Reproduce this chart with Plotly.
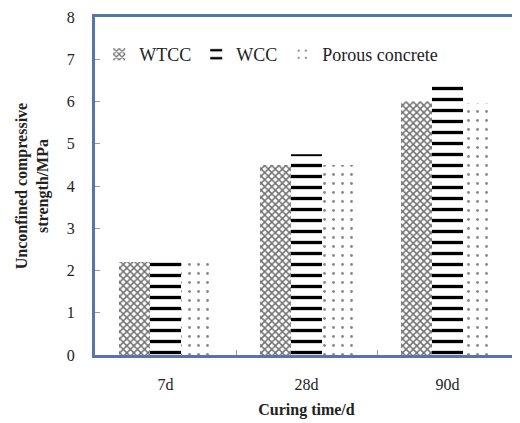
import plotly.graph_objects as go

categories = ["7d", "28d", "90d"]
wtcc = [2.2, 4.5, 6.0]
wcc = [2.25, 4.75, 6.4]
porous = [2.2, 4.5, 5.95]
y_ticks = [0, 1, 2, 3, 4, 5, 6, 7, 8]

font_family = "Liberation Serif"
border = "#5676ab"

fig = go.Figure()
fig.add_trace(go.Bar(
    name="WTCC", x=categories, y=wtcc,
    marker=dict(color="white", line=dict(width=0),
                pattern=dict(shape="x", fgcolor="#707070", bgcolor="white", size=5,
                             solidity=0.5, fgopacity=1)),
))
fig.add_trace(go.Bar(
    name="WCC", x=categories, y=wcc,
    marker=dict(color="white", line=dict(width=0),
                pattern=dict(shape="-", fgcolor="#000000", bgcolor="white", size=11,
                             solidity=0.3, fgopacity=1)),
))
fig.add_trace(go.Bar(
    name="Porous concrete", x=categories, y=porous,
    marker=dict(color="white", line=dict(width=0),
                pattern=dict(shape=".", fgcolor="#8a8a8a", bgcolor="white", size=9,
                             solidity=0.08, fgopacity=1)),
))

fig.update_layout(
    width=520, height=423,
    margin=dict(l=87, r=10, t=9, b=76),
    paper_bgcolor="white", plot_bgcolor="white",
    barmode="group", bargap=0.34, bargroupgap=0,
    font=dict(family=font_family, size=15, color="#222222"),
    showlegend=True,
    legend=dict(orientation="h", x=0.01, y=0.889, xanchor="left", yanchor="middle",
                bgcolor="rgba(0,0,0,0)", font=dict(size=18, family=font_family),
                itemwidth=30, tracegroupgap=0),
    xaxis=dict(
        automargin=False,
        showline=True, linecolor=border, linewidth=3, mirror=True,
        ticks="inside", tickson="boundaries", ticklen=5, tickcolor="#8899bb",
        tickfont=dict(size=16, family=font_family),
        ticklabelstandoff=13,
        title=dict(text="<b>Curing time/d</b>", font=dict(size=16, family=font_family), standoff=12),
        showgrid=False,
    ),
    yaxis=dict(
        automargin=False,
        range=[0, 8], tickvals=y_ticks,
        ticklabeloverflow="allow",
        showline=True, linecolor=border, linewidth=3, mirror=True,
        ticks="inside", ticklen=5, tickcolor="#8899bb",
        tickfont=dict(size=16, family=font_family),
        ticklabelstandoff=14,
        title=dict(text="<b>Unconfined compressive<br>strength/MPa</b>", font=dict(size=16, family=font_family), standoff=15),
        showgrid=False, zeroline=False,
    ),
)

fig.write_html("out.html")
